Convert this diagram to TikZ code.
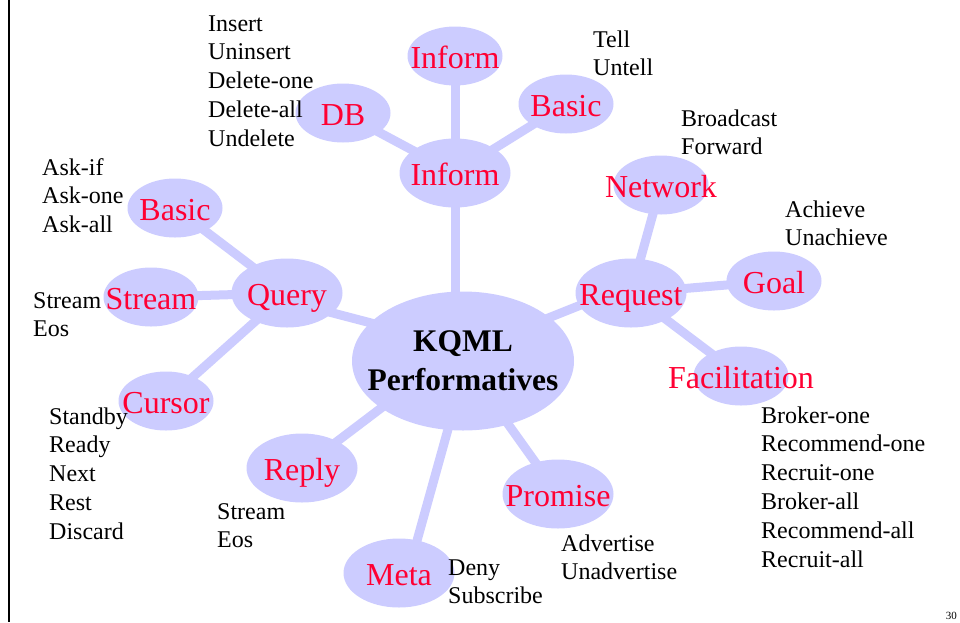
\documentclass[tikz,border=0pt]{standalone}
\usepackage{fontspec}
\setmainfont{Liberation Serif}
\usetikzlibrary{shapes.geometric,backgrounds}
\definecolor{bubble}{RGB}{204,204,255}
\definecolor{labelred}{RGB}{255,0,51}

\begin{document}
\begin{tikzpicture}[x=1pt,y=-1pt,
  hub/.style={ellipse,fill=bubble,inner sep=0pt,minimum width=222pt,minimum height=139pt},
  big/.style={ellipse,fill=bubble,inner sep=0pt,minimum width=111pt,minimum height=69pt},
  small/.style={ellipse,fill=bubble,inner sep=0pt,minimum width=95pt,minimum height=59pt},
  tag/.style={text=labelred,font=\fontsize{32}{38}\selectfont,inner sep=0pt,
    text height=24pt,text depth=0pt},
  items/.style={anchor=north west,inner sep=0pt,align=left,
    font=\fontsize{24}{28.8}\selectfont},
  link/.style={draw=bubble,line width=9pt}]

\useasboundingbox (0,0) rectangle (960,622);

% central performative bubble
\node[hub] (kqml) at (463,361) {};
\node[font=\bfseries\fontsize{31.5}{39}\selectfont,align=center,inner sep=0pt]
  (kqmltext) at (kqml) {KQML\\Performatives};

% first ring
\node[big,label={[tag]center:Inform}]  (informmid) at (455,173) {};
\node[big,label={[tag]center:Request}] (request)   at (631,293) {};
\node[big,label={[tag]center:Query}]   (query)     at (287,293) {};
\node[big,label={[tag]center:Reply}]   (reply)     at (302,468) {};
\node[big,label={[tag]center:Meta}]    (meta)      at (399,573) {};
\node[big,label={[tag]center:Promise}] (promise)   at (558,494) {};

% second ring
\node[small,label={[tag]center:Inform}]       (informtop) at (455,56) {};
\node[small,label={[tag]center:DB}]           (db)        at (343,113) {};
\node[small,label={[tag]center:Basic}]        (basicinf)  at (566,104) {};
\node[small,label={[tag]center:Network}]      (network)   at (661,185) {};
\node[small,label={[tag]center:Goal}]         (goal)      at (774,281) {};
\node[small,label={[tag]center:Facilitation}] (facil)     at (741,376) {};
\node[small,label={[tag]center:Basic}]        (basicq)    at (175,208) {};
\node[small,label={[tag]center:Stream}]       (stream)    at (151,297) {};
\node[small,label={[tag]center:Cursor}]       (cursor)    at (166,401) {};

% connectors behind the bubbles
\begin{scope}[on background layer]
  \fill[white] (0,0) rectangle (960,622);
  \draw[link] (informmid.center) -- (informmid.center |- kqml.center);
  \draw[link] ([yshift=9pt]kqml.center) -- ([yshift=8pt]request.center);
  \draw[link] ([yshift=14pt]kqml.center) -- ([yshift=-8pt]query.center);
  \draw[link] ([yshift=15pt]kqml.center) -- (reply.center);
  \draw[link] ([xshift=4pt]kqml.center) -- ([xshift=9pt]meta.center);
  \draw[link] (kqml.center) -- (promise.center);
  \draw[link] (informmid.center) -- (informtop.center);
  \draw[link] (informmid.center) -- (db.center);
  \draw[link] (informmid.center) -- (basicinf.center);
  \draw[link] (request.center) -- (network.center);
  \draw[link] (request.center) -- (goal.center);
  \draw[link] (request.center) -- (facil.center);
  \draw[link] (query.center) -- (basicq.center);
  \draw[link] (query.center) -- (stream.center);
  \draw[link] (query.center) -- (cursor.center);
\end{scope}

% performative lists
\node[items] (dblist)      at (208,10.8)  {\strut Insert\\Uninsert\\Delete-one\\Delete-all\\Undelete};
\node[items] (telllist)    at (593,26.8)  {\strut Tell\\Untell};
\node[items] (netlist)     at (681,105.8) {\strut Broadcast\\Forward};
\node[items] (goallist)    at (785,196.8) {\strut Achieve\\Unachieve};
\node[items] (faclist)     at (761,402.8) {\strut Broker-one\\Recommend-one\\Recruit-one\\Broker-all\\Recommend-all\\Recruit-all};
\node[items] (promlist)    at (561,530.8) {\strut Advertise\\Unadvertise};
\node[items] (metalist)    at (448,554.8) {\strut Deny\\Subscribe};
\node[items] (replylist)   at (217,498.8) {\strut Stream\\Eos};
\node[items] (cursorlist)  at (49,403.8)  {\strut Standby\\Ready\\Next\\Rest\\Discard};
\node[items] (streamlist)  at (33,287.8)  {\strut Stream\\Eos};
\node[items] (asklist)     at (42,154.8)  {\strut Ask-if\\Ask-one\\Ask-all};

% page frame and number
\draw[line width=2pt] (9,0) -- (9,622);
\node[font=\fontsize{11}{13}\selectfont,anchor=base east,inner sep=0pt] (pageno) at (957,619) {30};
\end{tikzpicture}
\end{document}
